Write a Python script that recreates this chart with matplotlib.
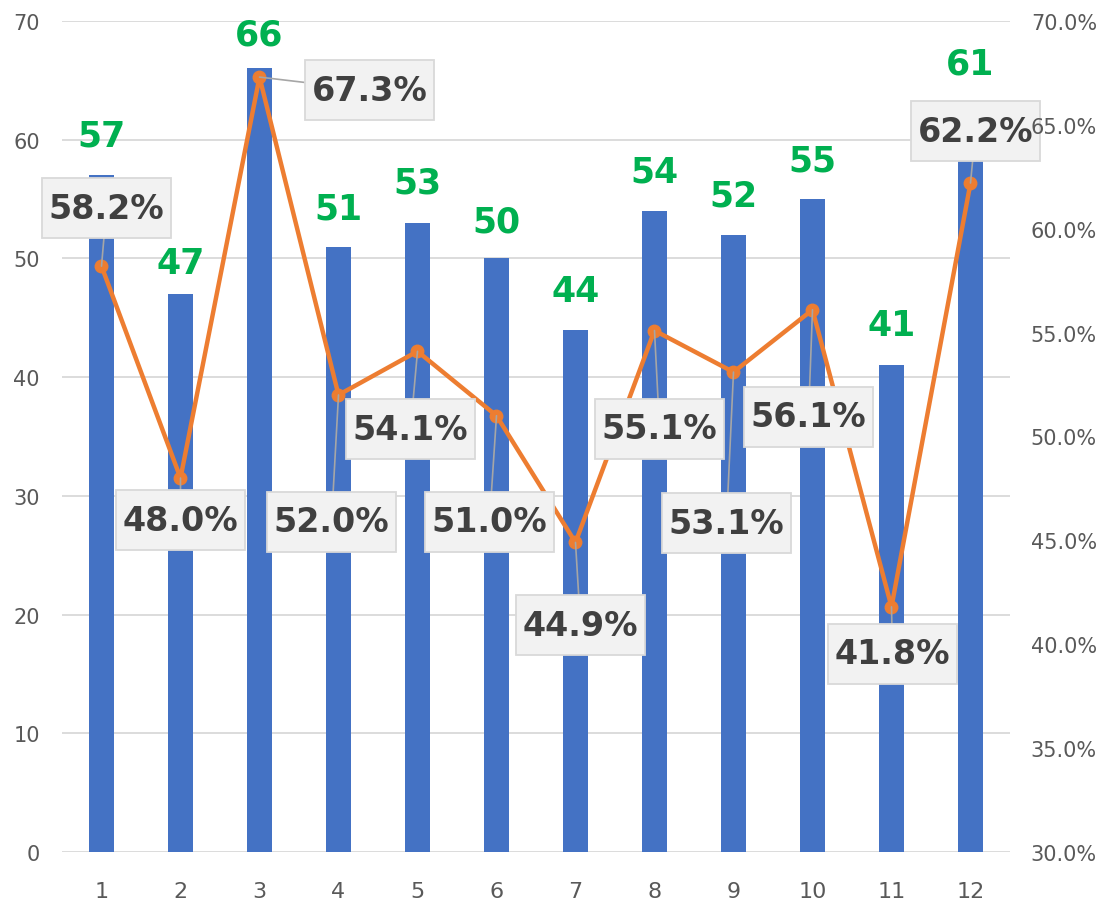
import matplotlib
matplotlib.use('Agg')
import matplotlib.pyplot as plt
from matplotlib.patches import Rectangle
from matplotlib.transforms import ScaledTranslation

# chart data
months = ['1', '2', '3', '4', '5', '6', '7', '8', '9', '10', '11', '12']
counts = [57, 47, 66, 51, 53, 50, 44, 54, 52, 55, 41, 61]
rates = [58.2, 48.0, 67.3, 52.0, 54.1, 51.0, 44.9, 55.1, 53.1, 56.1, 41.8, 62.2]

BLUE = '#4472C4'
ORANGE = '#ED7D31'
GREEN = '#00B050'
GRID = '#D9D9D9'
TICK = '#595959'

plt.rcParams['font.family'] = ['DejaVu Sans']

fig = plt.figure(figsize=(11.02, 9.04), dpi=100)
ax = fig.add_axes([62 / 1102, 51 / 904, 948 / 1102, 831 / 904])
ax2 = ax.twinx()

x = list(range(len(months)))

ax.bar(x, counts, width=0.32, color=BLUE, zorder=2)
ax.set_xlim(-0.5, len(months) - 0.5)
ax.set_ylim(0, 70)
ax.set_yticks(range(0, 71, 10))
ax.yaxis.grid(True, color=GRID, linewidth=1.3, zorder=0)
ax.set_axisbelow(True)
ax.set_xticks(x)
ax.set_xticklabels(months)

for a in (ax, ax2):
    for s in a.spines.values():
        s.set_visible(False)
    a.tick_params(length=0, labelsize=15, labelcolor=TICK)
ax.tick_params(axis='y', pad=16)
ax.tick_params(axis='x', pad=21, labelsize=16)
ax2.tick_params(axis='y', pad=15)
ax2.yaxis.set_zorder(8)

ax2.plot(x, rates, color=ORANGE, linewidth=3.2, marker='o', markersize=9,
         zorder=3)
ax2.set_ylim(30, 70)
ax2.set_yticks(range(30, 71, 5))
ax2.set_yticklabels(['{:.1f}%'.format(v) for v in range(30, 71, 5)])

# bar value labels (offset above bar top, pixels)
count_off = [40, 31, 34, 38, 40, 37, 39, 39, 39, 39, 40, 64]
for i, v in enumerate(counts):
    ax.annotate(str(v), (i, v), xytext=(0, count_off[i]),
                textcoords='offset pixels', ha='center', va='center',
                fontsize=25, fontweight='bold', color=GREEN, zorder=5)

# percent label box offsets relative to point (pixels, y up)
rate_off = [(5, 58), (0, -42), (110, -13), (-7, -127), (-7, -78),
            (-7, -106), (5, -83), (5, -98), (-7, -151), (-4, -107),
            (1, -47), (5, 52)]
box_w, box_h = 129, 60
for i, v in enumerate(rates):
    dx, dy = rate_off[i]
    # leader line from box centre to the point (box hides the inner part)
    ax2.annotate('', (i, v), xytext=(dx, dy), textcoords='offset pixels',
                 arrowprops=dict(arrowstyle='-', color='#A6A6A6', lw=1.2,
                                 shrinkA=0, shrinkB=0),
                 annotation_clip=False, zorder=4)
    trans = fig.dpi_scale_trans + ScaledTranslation(i, v, ax2.transData)
    ax2.add_patch(Rectangle(((dx - box_w / 2) / 100, (dy - box_h / 2) / 100),
                            box_w / 100, box_h / 100, transform=trans,
                            fc='#F2F2F2', ec='#D9D9D9', lw=1.3, zorder=5,
                            clip_on=False))
    ax2.annotate('{:.1f}%'.format(v), (i, v), xytext=(dx, dy),
                 textcoords='offset pixels', ha='center', va='center',
                 fontsize=24, fontweight='bold', color='#404040',
                 annotation_clip=False, zorder=6)

plt.savefig('out.png', dpi=100)
